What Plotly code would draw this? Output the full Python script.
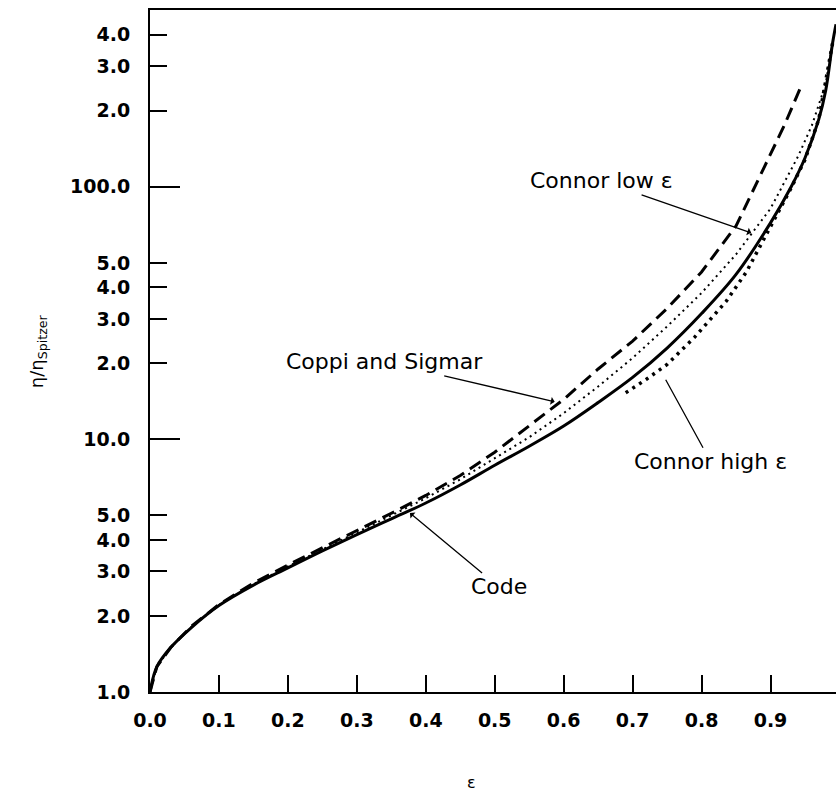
import plotly.graph_objects as go

# ---- data ----
eps_code = [0.0, 0.01, 0.03, 0.06, 0.10, 0.15, 0.20, 0.25, 0.30, 0.35, 0.40, 0.45, 0.50,
            0.55, 0.60, 0.65, 0.70, 0.75, 0.80, 0.85, 0.90, 0.93, 0.95, 0.97, 0.98, 0.99, 0.995]
val_code = [1.0, 1.26, 1.5, 1.8, 2.2, 2.65, 3.1, 3.62, 4.2, 4.85, 5.6, 6.6, 7.9,
            9.4, 11.3, 14.0, 17.6, 23.0, 31.5, 45.0, 72.0, 100.0, 130.0, 185.0, 240.0, 370.0, 440.0]

eps_coppi = [0.0, 0.01, 0.03, 0.06, 0.10, 0.15, 0.20, 0.25, 0.30, 0.35, 0.40, 0.45, 0.50,
             0.55, 0.60, 0.65, 0.70, 0.75, 0.80, 0.85, 0.90, 0.92, 0.943]
val_coppi = [1.0, 1.26, 1.5, 1.82, 2.22, 2.7, 3.18, 3.72, 4.35, 5.1, 6.0, 7.2, 8.9,
             11.3, 14.4, 19.0, 24.5, 33.0, 46.0, 70.0, 135.0, 175.0, 245.0]

eps_conlow = [0.0, 0.01, 0.03, 0.06, 0.10, 0.15, 0.20, 0.25, 0.30, 0.35, 0.40, 0.45, 0.50,
              0.55, 0.60, 0.65, 0.70, 0.75, 0.80, 0.85, 0.90, 0.94, 0.96, 0.98, 0.99]
val_conlow = [1.0, 1.26, 1.5, 1.81, 2.21, 2.67, 3.14, 3.68, 4.28, 5.0, 5.85, 6.95, 8.4,
              10.2, 12.7, 16.2, 21.0, 28.0, 38.0, 54.0, 82.0, 132.0, 175.0, 255.0, 370.0]

eps_conhigh = [0.69, 0.72, 0.75, 0.79, 0.836, 0.865, 0.884, 0.91, 0.93, 0.95, 0.97, 0.99]
val_conhigh = [15.3, 17.3, 19.8, 25.4, 35.3, 46.0, 57.6, 78.0, 99.0, 128.0, 185.0, 370.0]

y_tickvals = [1, 2, 3, 4, 5, 10, 20, 30, 40, 50, 100, 200, 300, 400]
y_ticktext = ["1.0", "2.0", "3.0", "4.0", "5.0", "10.0", "2.0", "3.0", "4.0", "5.0",
              "100.0", "2.0", "3.0", "4.0"]
y_long_ticks = [10, 100]
x_tickvals = [0.0, 0.1, 0.2, 0.3, 0.4, 0.5, 0.6, 0.7, 0.8, 0.9]
x_ticktext = ["0.0", "0.1", "0.2", "0.3", "0.4", "0.5", "0.6", "0.7", "0.8", "0.9"]

fig = go.Figure()

fig.add_trace(go.Scatter(x=eps_conhigh, y=val_conhigh, mode="lines",
                         line=dict(color="black", width=3.5, dash="3px,5px"), name="Connor high ε"))
fig.add_trace(go.Scatter(x=eps_conlow, y=val_conlow, mode="lines",
                         line=dict(color="black", width=2, dash="2px,4px"), name="Connor low ε"))
fig.add_trace(go.Scatter(x=eps_coppi, y=val_coppi, mode="lines",
                         line=dict(color="black", width=3, dash="13px,7px"), name="Coppi and Sigmar"))
fig.add_trace(go.Scatter(x=eps_code, y=val_code, mode="lines", line_shape="spline",
                         line=dict(color="black", width=3), name="Code"))

# invisible trace on overlay axis for the long ticks at 10 and 100
fig.add_trace(go.Scatter(x=[0.5], y=[10], yaxis="y2", mode="markers",
                         marker=dict(opacity=0), showlegend=False, hoverinfo="skip"))

tickfont = dict(family="DejaVu Sans", size=19, color="black", weight="bold")

fig.update_layout(
    width=836, height=796,
    margin=dict(l=150, r=0, t=10, b=104),
    paper_bgcolor="white", plot_bgcolor="white",
    showlegend=False,
    xaxis=dict(range=[0, 0.995], tickvals=x_tickvals, ticktext=x_ticktext,
               ticks="inside", ticklen=17, tickwidth=2, tickcolor="black",
               showline=True, linewidth=2, linecolor="black", mirror=True,
               showgrid=False, zeroline=False, tickfont=tickfont, ticklabelstandoff=10),
    yaxis=dict(type="log", range=[0, 2.70], tickvals=y_tickvals, ticktext=y_ticktext,
               ticks="inside", ticklen=17, tickwidth=2, tickcolor="black",
               showline=True, linewidth=2, linecolor="black",
               showgrid=False, zeroline=False, tickfont=tickfont, ticklabelstandoff=14),
    yaxis2=dict(type="log", range=[0, 2.70], overlaying="y", side="left",
                tickvals=y_long_ticks, ticks="inside", ticklen=30, tickwidth=2,
                tickcolor="black", showticklabels=False, showgrid=False,
                zeroline=False, showline=False),
)

annfont = dict(family="DejaVu Sans", size=22, color="black")
fig.add_annotation(x=0.872, y=1.818, xref="x", yref="y", text="Connor low ε",
                   ax=-150, ay=-52, font=annfont, showarrow=True,
                   arrowhead=1, arrowwidth=1.3, arrowcolor="black")
fig.add_annotation(x=0.587, y=1.149, xref="x", yref="y", text="Coppi and Sigmar",
                   ax=-170, ay=-40, font=annfont, showarrow=True,
                   arrowhead=1, arrowwidth=1.3, arrowcolor="black")
fig.add_annotation(x=0.377, y=0.709, xref="x", yref="y", text="Code",
                   ax=89, ay=74, font=annfont, showarrow=True,
                   arrowhead=1, arrowwidth=1.3, arrowcolor="black")
fig.add_annotation(x=0.748, y=1.236, xref="x", yref="y", text="Connor high ε",
                   ax=45, ay=82, font=annfont, showarrow=True,
                   arrowhead=0, arrowwidth=1.3, arrowcolor="black")

# axis titles
fig.add_annotation(x=-0.163, y=0.5, xref="paper", yref="paper", textangle=-90,
                   xanchor="center", yanchor="middle",
                   text="η/η<sub>Spitzer</sub>", showarrow=False,
                   font=dict(family="DejaVu Sans", size=18, color="black"))
fig.add_annotation(x=0.469, y=-0.132, xref="paper", yref="paper",
                   xanchor="center", yanchor="middle",
                   text="ε", showarrow=False,
                   font=dict(family="DejaVu Sans", size=16, color="black"))

fig.write_html("out.html")
